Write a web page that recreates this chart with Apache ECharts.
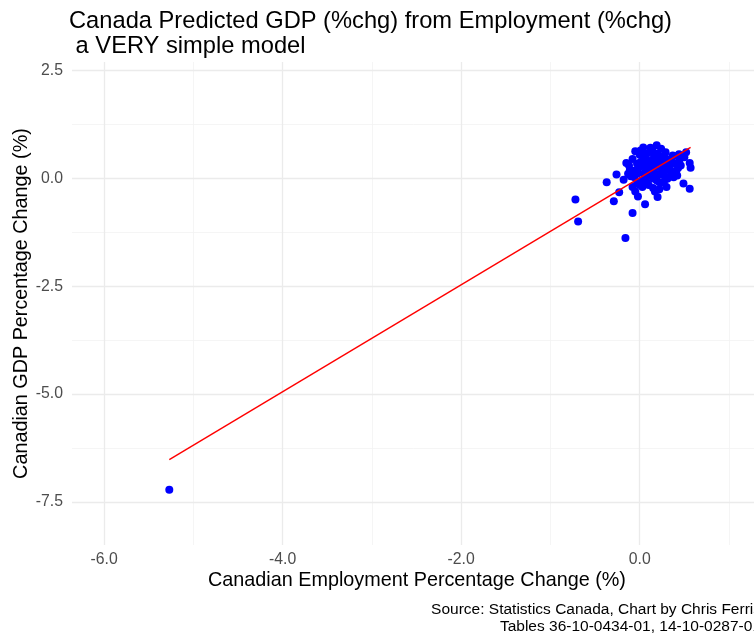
<!DOCTYPE html>
<html>
<head>
<meta charset="utf-8">
<script src="https://cdn.jsdelivr.net/npm/echarts@6/dist/echarts.min.js"></script>
<style>
  html, body { margin: 0; padding: 0; background: #ffffff; }
  #chart { width: 754px; height: 635px; }
</style>
</head>
<body>
<div id="chart"></div>
<script>
// Quarterly % change: employment (x) vs GDP (y)
const empChange = [
  -5.27, -0.72, -0.69, -0.16, -0.08, 0.06, -0.29, -0.23, -0.37, -0.26,
  -0.18, -0.15, -0.02, 0.20, 0.17, 0.30, 0.49, 0.56, 0.56, 0.57,
  0.50, 0.52, 0.43, 0.38, 0.37, 0.19, 0.01, -0.05, 0.24, 0.29,
  0.12, -0.11, -0.06, -0.08, 0.03, 0.08, 0.01, 0.07, 0.14, 0.22,
  0.10, 0.18, 0.25, 0.33, 0.31, 0.22, -0.03, 0.05, -0.03, -0.13,
  0.42, 0.35, 0.00, 0.05, 0.12, 0.18, 0.25, 0.28, 0.15, 0.08,
  -0.08, -0.10, 0.20, 0.30, 0.40, 0.45, 0.35, 0.02, 0.10, 0.22,
  -0.05, 0.13, 0.26, 0.06, -0.02, 0.16, 0.32, 0.38, 0.46, 0.24,
  -0.12, 0.04, 0.04, 0.09, 0.16, 0.21, 0.27, 0.34, 0.11, 0.19,
  0.27, -0.01, 0.07, 0.23, 0.14, 0.36, 0.41, -0.07, 0.00, 0.15,
  0.31, 0.44
];
const gdpChange = [
  -7.22, -0.49, -1.00, -1.38, -0.80, -0.60, -0.53, -0.32, -0.09, 0.09,
  -0.03, 0.36, -0.42, -0.43, -0.30, -0.20, -0.12, -0.24, 0.36, 0.25,
  0.49, 0.61, 0.24, 0.03, 0.53, 0.77, 0.65, 0.63, 0.69, 0.61,
  0.71, 0.20, 0.03, -0.20, -0.20, -0.09, 0.38, 0.46, 0.42, 0.49,
  0.19, 0.11, 0.19, 0.26, -0.01, -0.09, 0.34, 0.11, -0.12, 0.11,
  0.07, 0.42, 0.55, 0.28, 0.30, 0.35, 0.38, 0.05, 0.00, 0.58,
  0.45, 0.05, 0.58, 0.45, 0.35, 0.45, 0.15, -0.05, -0.15, -0.25,
  -0.30, 0.62, 0.28, 0.02, 0.12, 0.21, 0.36, 0.52, 0.30, 0.09,
  0.30, 0.72, 0.48, 0.40, 0.52, 0.45, 0.52, 0.30, 0.08, -0.05,
  -0.10, 0.25, 0.17, 0.27, 0.66, 0.05, 0.18, 0.18, -0.15, -0.22,
  0.20, 0.56
];

// Simple linear model fit, drawn between the extreme employment values
const fitX = [-5.27, 0.57];
const fitY = [-6.52, 0.72];

// Axis ticks
const xMajor = [-6, -4, -2, 0];
const xMinor = [-5, -3, -1, 1];
const yMajor = [-7.5, -5, -2.5, 0, 2.5];
const yMinor = [-6.25, -3.75, -1.25, 1.25];

const FONT = '"Liberation Sans", Arial, sans-serif';

const points = empChange.map((x, i) => [x, gdpChange[i]]);
const fitLine = fitX.map((x, i) => [x, fitY[i]]);

const majorStyle = { color: '#ebebeb', width: 1.3, type: 'solid' };
const minorStyle = { color: '#f3f3f3', width: 0.8, type: 'solid' };
const gridLines = []
  .concat(xMinor.map(v => ({ xAxis: v, lineStyle: minorStyle })))
  .concat(yMinor.map(v => ({ yAxis: v, lineStyle: minorStyle })))
  .concat(xMajor.map(v => ({ xAxis: v, lineStyle: majorStyle })))
  .concat(yMajor.map(v => ({ yAxis: v, lineStyle: majorStyle })));

const chart = echarts.init(document.getElementById('chart'), null, { renderer: 'canvas' });
chart.setOption({
  animation: false,
  backgroundColor: '#ffffff',
  title: {
    text: 'Canada Predicted GDP (%chg) from Employment (%chg)\n a VERY simple model',
    left: 64,
    top: 4,
    textStyle: {
      fontFamily: FONT,
      fontSize: 23.7,
      fontWeight: 'normal',
      color: '#000000',
      lineHeight: 25
    }
  },
  grid: {
    left: 72,
    top: 62,
    width: 690,
    height: 483,
    containLabel: false,
    outerBoundsMode: 'none'
  },
  xAxis: {
    type: 'value',
    min: -6.36,
    max: 1.37,
    name: 'Canadian Employment Percentage Change (%)',
    nameLocation: 'middle',
    nameGap: 26,
    nameMoveOverlap: false,
    nameTextStyle: { fontFamily: FONT, fontSize: 19.8, color: '#000000' },
    axisLine: { show: false },
    axisTick: { show: false },
    splitLine: { show: false },
    axisLabel: {
      customValues: xMajor,
      formatter: v => v.toFixed(1),
      fontFamily: FONT,
      fontSize: 15.8,
      color: '#4d4d4d',
      margin: 7
    }
  },
  yAxis: {
    type: 'value',
    min: -8.5,
    max: 2.7,
    name: 'Canadian GDP Percentage Change (%)',
    nameLocation: 'middle',
    nameGap: 40,
    nameRotate: 90,
    nameMoveOverlap: false,
    nameTextStyle: { fontFamily: FONT, fontSize: 19.8, color: '#000000' },
    axisLine: { show: false },
    axisTick: { show: false },
    splitLine: { show: false },
    axisLabel: {
      customValues: yMajor,
      formatter: v => v.toFixed(1),
      fontFamily: FONT,
      fontSize: 15.8,
      color: '#4d4d4d',
      margin: 9
    }
  },
  graphic: [{
    type: 'text',
    x: 761,
    y: 601,
    silent: true,
    style: {
      text: 'Source: Statistics Canada, Chart by Chris Ferris\nTables 36-10-0434-01, 14-10-0287-01',
      align: 'right',
      verticalAlign: 'top',
      fontFamily: FONT,
      fontSize: 15.5,
      lineHeight: 17,
      fill: '#000000'
    }
  }],
  series: [
    {
      name: 'grid',
      type: 'line',
      data: [],
      silent: true,
      zlevel: 0,
      z: 0,
      markLine: {
        silent: true,
        symbol: 'none',
        label: { show: false },
        emphasis: { disabled: true },
        data: gridLines
      }
    },
    {
      name: 'quarters',
      type: 'scatter',
      data: points,
      symbol: 'circle',
      symbolSize: 8,
      itemStyle: { color: '#0000ff', opacity: 1 },
      zlevel: 1,
      z: 2
    },
    {
      name: 'fit',
      type: 'line',
      data: fitLine,
      showSymbol: false,
      lineStyle: { color: '#ff0000', width: 1.4 },
      zlevel: 1,
      z: 3
    }
  ]
});
</script>
</body>
</html>
